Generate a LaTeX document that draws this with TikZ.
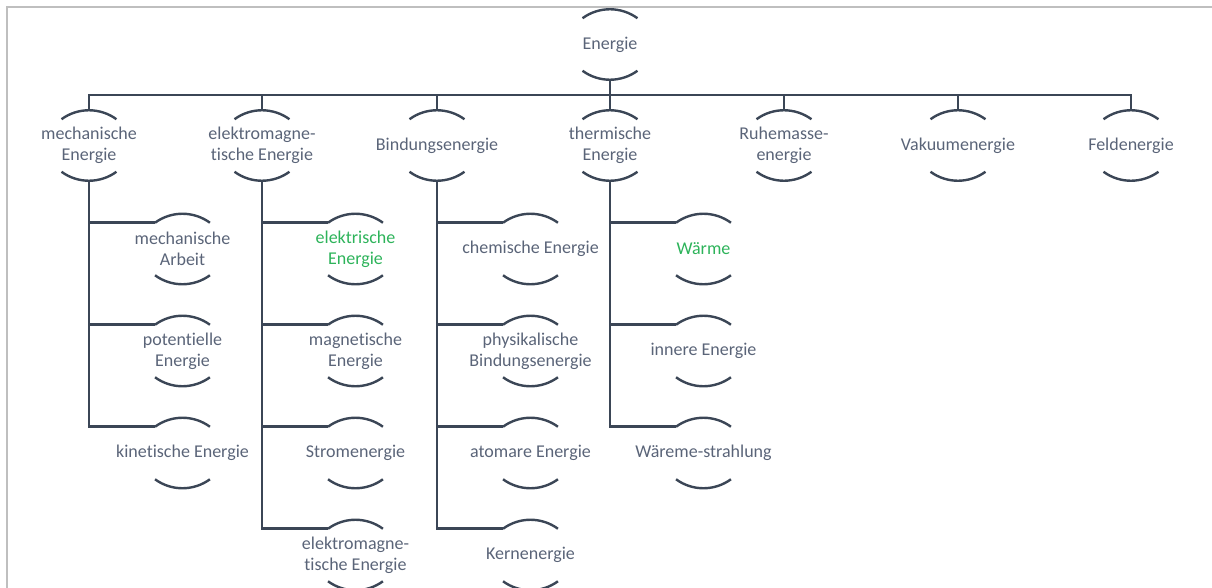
\documentclass[tikz,border=0pt]{standalone}
\usepackage{fontspec}
\setmainfont[RawFeature={-liga;-clig;-dlig;-calt}]{Carlito}
\definecolor{trait}{HTML}{3B4656}
\definecolor{texte}{HTML}{5A6478}
\definecolor{vert}{HTML}{2DB35A}
\definecolor{cadre}{HTML}{BFBFBF}

\begin{document}
\begin{tikzpicture}[x=0.75pt, y=-0.75pt, lien/.style={draw=trait, line width=2.2pt}]
        \tikzset{bulle/.style={inner sep=0pt, minimum width=41pt, minimum height=52.5pt, align=center, text=texte, font=\fontsize{13.5}{15.75}\selectfont}};
        \useasboundingbox (0, 0) rectangle (1212, 588);
        \draw[cadre, line width=1.5pt] (7, 588) -- (7, 7.5) -- (1212, 7.5);

        \node[bulle] (en) at (610, 44.5) {Energie};

        \node[bulle] (mech)  at (89, 145.5)   {mechanische\\Energie};
        \node[bulle] (elm)   at (262, 145.5)  {elektromagne-\\tische Energie};
        \node[bulle] (bind)  at (437, 145.5)  {Bindungsenergie};
        \node[bulle] (therm) at (610, 145.5)  {thermische\\Energie};
        \node[bulle] (ruhe)  at (784, 145.5)  {Ruhemasse-\\energie};
        \node[bulle] (vak)   at (958, 145.5)  {Vakuumenergie};
        \node[bulle] (feld)  at (1131, 145.5) {Feldenergie};

        \node[bulle] (arb)  at (182.5, 249) {mechanische\\Arbeit};
        \node[bulle] (pot)  at (182.5, 351) {potentielle\\Energie};
        \node[bulle] (kin)  at (182.5, 453) {kinetische Energie};

        \node[bulle, text=vert] (elek) at (355.5, 249) {elektrische\\Energie};
        \node[bulle] (magn) at (355.5, 351) {magnetische\\Energie};
        \node[bulle] (strom) at (355.5, 453) {Stromenergie};
        \node[bulle] (elm2) at (355.5, 555) {elektromagne-\\tische Energie};

        \node[bulle] (chem) at (530.5, 249) {chemische Energie};
        \node[bulle] (phys) at (530.5, 351) {physikalische\\Bindungsenergie};
        \node[bulle] (atom) at (530.5, 453) {atomare Energie};
        \node[bulle] (kern) at (530.5, 555) {Kernenergie};

        \node[bulle, text=vert] (warm) at (703.5, 249) {Wärme};
        \node[bulle] (inn) at (703.5, 351) {innere Energie};
        \node[bulle] (str) at (703.5, 453) {Wäreme-strahlung};

        % bogen oben und unten
        \foreach \n in {en, mech, elm, bind, therm, ruhe, vak, feld, arb, pot, kin, elek, magn, strom, elm2, chem, phys, atom, kern, warm, inn, str} {
            \draw[trait, line width=1.8pt] (\n.north) ++(-27.5, 9) arc[start angle=233.8, end angle=306.2, radius=46.5];
            \draw[trait, line width=1.8pt] (\n.south) ++(-27.5, -9) arc[start angle=126.2, end angle=53.8, radius=46.5];
        }

        \coordinate (bus) at (610, 95);
        \draw[lien] (en.south) -- (bus);
        \foreach \n in {mech, elm, bind, therm, ruhe, vak, feld}
            \draw[lien] (bus) -| (\n.north);

        \foreach \p/\c in {mech/arb, mech/pot, mech/kin, elm/elek, elm/magn, elm/strom, elm/elm2, bind/chem, bind/phys, bind/atom, bind/kern, therm/warm, therm/inn, therm/str}
            \draw[lien] (\p.south) |- ([shift={(-27.5, 9)}]\c.north);
    \end{tikzpicture}
\end{document}
